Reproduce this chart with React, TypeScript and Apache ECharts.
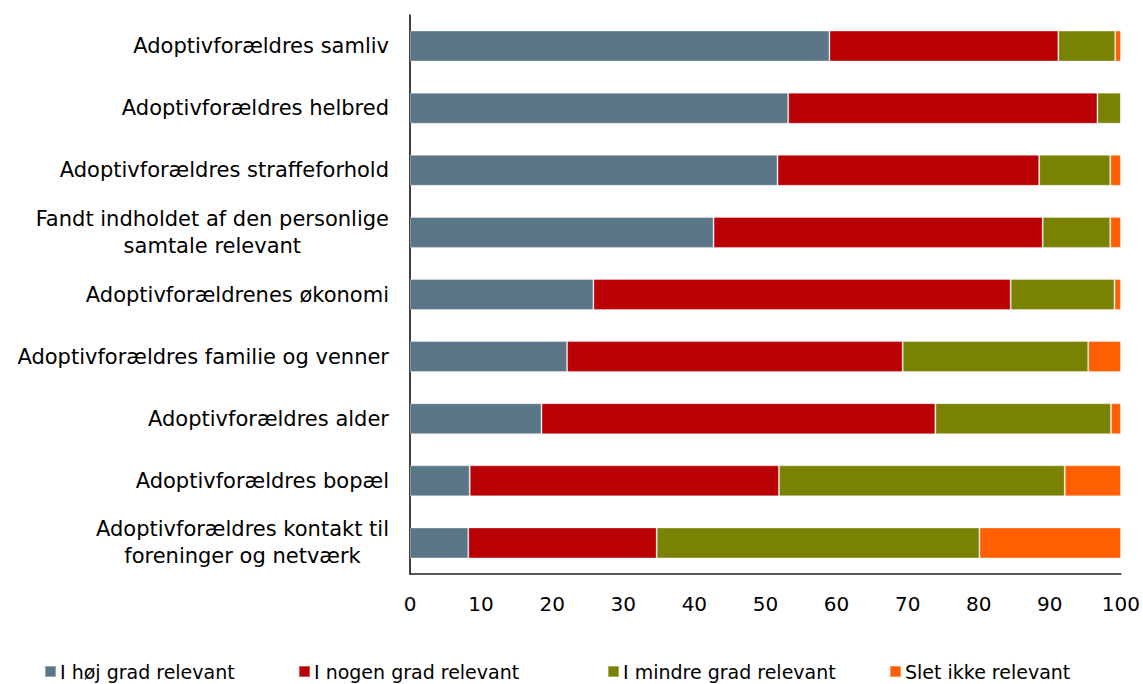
import React, { useEffect, useRef } from "react";
import * as echarts from "echarts";

const categories = [
  "Adoptivforældres samliv",
  "Adoptivforældres helbred",
  "Adoptivforældres straffeforhold",
  "Fandt indholdet af den personlige\nsamtale relevant",
  "Adoptivforældrenes økonomi",
  "Adoptivforældres familie og venner",
  "Adoptivforældres alder",
  "Adoptivforældres bopæl",
  "Adoptivforældres kontakt til\nforeninger og netværk",
];

const seriesNames = [
  "I høj grad relevant",
  "I nogen grad relevant",
  "I mindre grad relevant",
  "Slet ikke relevant",
];

const hojGrad = [59.0, 53.2, 51.7, 42.7, 25.8, 22.1, 18.5, 8.4, 8.2];
const nogenGrad = [32.2, 43.5, 36.8, 46.3, 58.7, 47.2, 55.4, 43.5, 26.5];
const mindreGrad = [8.0, 3.3, 10.0, 9.5, 14.6, 26.1, 24.7, 40.2, 45.4];
const sletIkke = [0.8, 0.0, 1.5, 1.5, 0.9, 4.6, 1.4, 7.9, 19.9];

const xTicks = [0, 10, 20, 30, 40, 50, 60, 70, 80, 90, 100];

const colors = ["#5B7687", "#B80005", "#7A8204", "#FF5F00"];
const FONT = "DejaVu Sans";
const CAT_SIZE = 21;
const LINE_H = 27;

function measure(text: string, size: number): number {
  const c = document.createElement("canvas");
  const ctx = c.getContext("2d");
  if (!ctx) return text.length * size * 0.6;
  ctx.font = `${size}px "${FONT}"`;
  return ctx.measureText(text).width;
}

export default function App() {
  const ref = useRef<HTMLDivElement>(null);
  useEffect(() => {
    if (!ref.current) return;
    const chart = echarts.init(ref.current, undefined, { renderer: "svg" });

    const rich: Record<string, any> = {
      a: { fontSize: CAT_SIZE, fontFamily: FONT, color: "#000", lineHeight: LINE_H },
    };
    categories.forEach((c, i) => {
      const lines = c.split("\n");
      if (lines.length > 1) {
        const pad = Math.max(0, (measure(lines[0], CAT_SIZE) - measure(lines[1], CAT_SIZE)) / 2);
        rich["p" + i] = {
          fontSize: CAT_SIZE,
          fontFamily: FONT,
          color: "#000",
          lineHeight: LINE_H,
          padding: [0, pad, 0, 0],
        };
      }
    });

    const data = [hojGrad, nogenGrad, mindreGrad, sletIkke];
    const legendLefts = [44, 298, 607, 889];

    chart.setOption({
      animation: false,
      backgroundColor: "#fff",
      grid: { left: 410, right: 21, top: 15, bottom: 110, containLabel: false },
      legend: seriesNames.map((n, i) => ({
        data: [n],
        left: legendLefts[i],
        top: 662,
        padding: 0,
        icon: "rect",
        itemWidth: 11,
        itemHeight: 11,
        itemGap: 0,
        textStyle: { fontFamily: FONT, fontSize: 19, color: "#000", padding: [0, 0, 0, -1] },
        selectedMode: false,
      })),
      xAxis: {
        type: "value",
        min: 0,
        max: 100,
        interval: 10,
        axisLine: { show: true, lineStyle: { color: "#222", width: 1.5 } },
        axisTick: { show: false },
        splitLine: { show: false },
        axisLabel: {
          margin: 20,
          fontFamily: FONT,
          fontSize: 20,
          color: "#000",
          formatter: (v: number) => (xTicks.includes(v) ? String(v) : ""),
        },
      },
      yAxis: {
        type: "category",
        data: categories,
        inverse: true,
        axisLine: { show: true, lineStyle: { color: "#000", width: 1.5 } },
        axisTick: { show: false },
        axisLabel: {
          margin: 21,
          fontFamily: FONT,
          fontSize: CAT_SIZE,
          color: "#000",
          align: "right",
          rich,
          formatter: (v: string, i: number) => {
            const lines = v.split("\n");
            if (lines.length === 1) return `{a|${v}}`;
            return `{a|${lines[0]}}\n{p${i}|${lines[1]}}`;
          },
        },
      },
      series: seriesNames.map((n, i) => ({
        name: n,
        type: "bar",
        stack: "total",
        data: data[i],
        barWidth: 31,
        itemStyle: {
          color: colors[i],
          borderColor: "rgba(255,255,255,0.35)",
          borderWidth: 1,
        },
      })),
    });
    return () => chart.dispose();
  }, []);

  return (
    <div
      ref={ref}
      style={{ width: 1143, height: 684, position: "absolute", left: 0, top: 0 }}
    />
  );
}
